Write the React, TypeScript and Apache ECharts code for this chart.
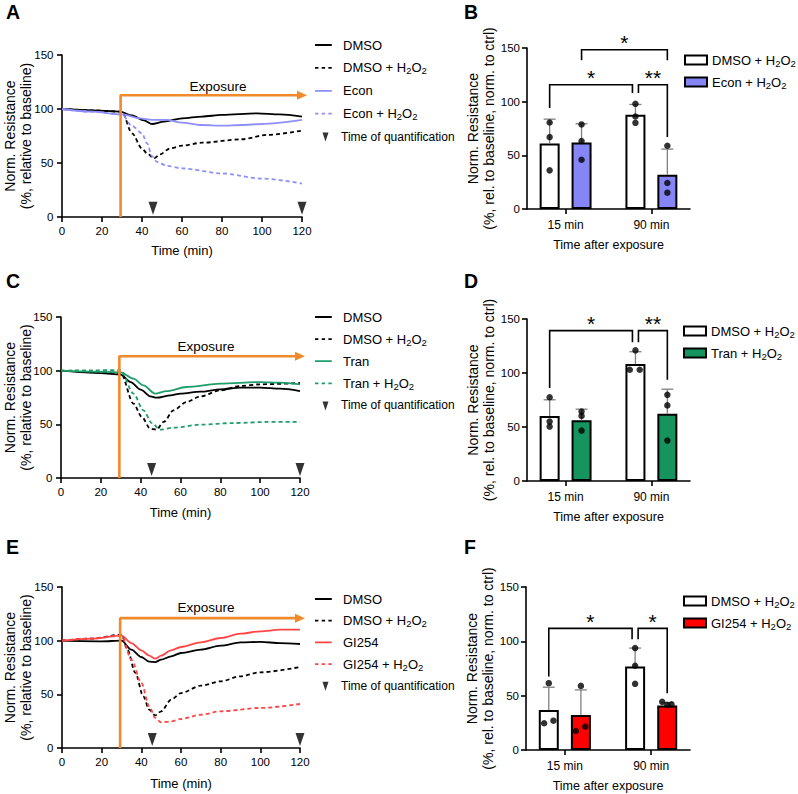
import React, { useEffect, useRef } from "react";
import * as echarts from "echarts";

const FONT = '"Liberation Sans", Arial, Helvetica, sans-serif';

// ---------------- data ----------------
// time courses: [minute, normalized resistance %]
const aDMSO = [[0,100],[15,98.8],[29,97.6],[35,94],[41,89.5],[45,86.1],[51,88.3],[60,91.4],[70,93],[80,94.5],[97.5,96],[109,95],[120,93]];
const aDMSO_H2O2 = [[0,100],[15,98.8],[30,97.5],[35,77.5],[40,63.5],[42.5,59],[46,54.2],[49,58],[54,63.5],[60,66],[70,68.8],[90,72],[102.5,76],[120,80]];
const aEcon = [[0,100],[15,97.5],[30,95],[39,91.4],[45,89.9],[52.5,89.9],[60,87.4],[70,85.2],[80,84.6],[90,85.2],[100,86.1],[120,89.9]];
const aEcon_H2O2 = [[0,100],[15,97.5],[30,95],[35,84.3],[40,77.5],[42.5,68.2],[45,56.4],[47.5,51],[52.5,47.4],[60,45],[80,40.3],[100,35.6],[120,31]];

const cDMSO = [[0,100],[20,97.8],[30,96.3],[35,89.4],[40,82.3],[45,76],[48,74.8],[55,77],[60,78.6],[70,80.4],[80,82.6],[90,84.2],[100,84.2],[110,83.2],[120,81]];
const cDMSO_H2O2 = [[0,100],[15,99],[30,98],[36.4,69.3],[40.6,56.8],[44.8,46],[48,45],[51.5,52.2],[56.5,63],[63,70.8],[70,76],[80,81.7],[90,85.7],[100,87.3],[120,88.5]];
const cTran = [[0,100],[15,99.2],[30,98.5],[36.4,92.5],[41.4,86.3],[47.3,78.6],[53,81],[63,84.8],[80,87.9],[100,89.4],[110,88.8],[120,87.3]];
const cTran_H2O2 = [[0,100],[15,100.3],[30,100.5],[36.4,78.6],[41.4,63],[45.6,51.2],[49.8,45],[56.5,46.9],[70,49.7],[86.7,51.2],[103.5,52.2],[120,52.2]];

const eDMSO = [[0,100],[20,99.4],[30,100],[35,91.6],[40,84.8],[44,80.4],[47,80.1],[50,82.3],[55,85.4],[60,88.5],[70,91.6],[80,95.3],[90,98.4],[100,98.8],[110,97.8],[120,96.9]];
const eDMSO_H2O2 = [[0,100],[15,101.9],[30,105.6],[33,91.6],[37,69.9],[41,48.1],[44,35.7],[47,30.4],[50,34.2],[55,45],[60,51.2],[70,58.1],[80,62.1],[90,66.8],[100,70.5],[120,75.5]];
const eGI = [[0,100],[15,101.9],[30,104.7],[35,97.8],[40,91],[44,86],[47,83.2],[50,86],[55,91],[60,94.1],[70,98.4],[80,102.5],[90,106.5],[100,108.7],[110,110.2],[120,110.2]];
const eGI_H2O2 = [[0,100],[15,102],[30,104.7],[35,82.3],[40,60.6],[44,38.8],[47,28],[50,23.9],[55,24.8],[60,27],[70,31],[80,34.2],[100,37.3],[120,41]];

const quantTimes = [45.5, 120];
const exposureStart = 29.3;

// bar panels
const barCategories = ["15 min", "90 min"];

const bDMSOMean = [61, 87.8];
const bDMSOSd = [22.7, 9.6];
const bDMSODots = [[80.6, 67, 36], [98, 86.2, 80.3]];
const bEconMean = [62, 31.9];
const bEconSd = [17.4, 23.9];
const bEconDots = [[78.8, 63.3, 45.9], [58.9, 24.2, 15.2]];

const dDMSOMean = [60.3, 108.3];
const dDMSOSd = [14.9, 11.4];
const dDMSODots = [[77.6, 55, 50.4], [121, 103, 103]];
const dTranMean = [56.3, 62.2];
const dTranSd = [10.2, 22.8];
const dTranDots = [[64.3, 60.3, 46.7], [79.8, 70, 37.4]];

const fDMSOMean = [36.9, 76.9];
const fDMSOSd = [20.9, 16.9];
const fDMSODots = [[61.5, 24.6, 27], [93.8, 77.5, 60.9]];
const fGIMean = [32.3, 40.9];
const fGISd = [23, 2.7];
const fGIDots = [[59, 17.5, 21.5], [44.3, 41.5, 42]];

// significance brackets: endpoints as [category, group]
const bBrackets = [
  { from: [0, 0], to: [1, 0], y: 115.8, legs: [94, 108], label: "*" },
  { from: [1, 0], to: [1, 1], y: 115.8, legs: [108, 67], label: "**" },
  { from: [0, 1], to: [1, 1], y: 148.4, legs: [138.5, 138.5], label: "*" },
];
const dBrackets = [
  { from: [0, 0], to: [1, 0], y: 139.2, legs: [86, 128.4], label: "*" },
  { from: [1, 0], to: [1, 1], y: 139.2, legs: [128.4, 93.7], label: "**" },
];
const fBrackets = [
  { from: [0, 0], to: [1, 0], y: 111.9, legs: [67.6, 102], label: "*" },
  { from: [1, 0], to: [1, 1], y: 111.9, legs: [102, 52.3], label: "*" },
];

// ---------------- layout & style ----------------
const BLACK = "#000000";
const ECON_LINE = "#8f8ffb";
const ECON_BAR = "#8585f5";
const TRAN_LINE = "#1f9e6b";
const TRAN_BAR = "#15955d";
const GI_LINE = "#ff4545";
const GI_BAR = "#ff0000";
const ORANGE = "#f08a2c";
const ERR_GREY = "#808080";

const ZERO_JITTER = [[0, 0, 0], [0, 0, 0]];
const dDMSOJitter = [[0, 0, 0], [0, -0.066, 0.05]];
const fDMSOJitter = [[0, -0.054, 0.054], [0, 0, 0]];
const fGIJitter = [[0, -0.058, 0.05], [-0.058, 0, 0.05]];

const GROUP_OFF = 0.186;
const NUDGE = 0.035;
// legend icons, padded to the full 19x14 item box so they are drawn at scale 1
const BOX = "M0,0L0.01,0L0.01,0.01ZM19,14L19.01,14L19.01,14.01Z";
const TRI_ICON = `path://${BOX}M9.5,3L15.5,3L12.5,12Z`;
const SOLID_ICON = `path://${BOX}M2,6.1h16.8v1.8h-16.8Z`;
const DASH_ICON = `path://${BOX}M2,6.1h3.4v1.8h-3.4ZM8.7,6.1h3.4v1.8h-3.4ZM15.4,6.1h3.4v1.8h-3.4Z`;

const LEGEND_FONT = 13;

const linePanels = [
  {
    id: "A", grid: { left: 62, top: 55, width: 240, height: 162 },
    lines: [
      { name: "DMSO", data: aDMSO, color: BLACK, dashed: false },
      { name: "DMSO + H2O2", data: aDMSO_H2O2, color: BLACK, dashed: true },
      { name: "Econ", data: aEcon, color: ECON_LINE, dashed: false },
      { name: "Econ + H2O2", data: aEcon_H2O2, color: ECON_LINE, dashed: true },
    ],
    exposureTop: 112.7, legend: { left: 313, top: 37, gap: 6.9 },
    exposureLabel: [218, 86], letter: [6, 12], yTitleX: [10, 26], nameGap: 27,
  },
  {
    id: "C", grid: { left: 61, top: 317, width: 239, height: 161 },
    lines: [
      { name: "DMSO", data: cDMSO, color: BLACK, dashed: false },
      { name: "DMSO + H2O2", data: cDMSO_H2O2, color: BLACK, dashed: true },
      { name: "Tran", data: cTran, color: TRAN_LINE, dashed: false },
      { name: "Tran + H2O2", data: cTran_H2O2, color: TRAN_LINE, dashed: true },
    ],
    exposureTop: 113.4, legend: { left: 313, top: 309, gap: 6.1 },
    exposureLabel: [206, 346], letter: [6, 281], yTitleX: [10, 26], nameGap: 28,
  },
  {
    id: "E", grid: { left: 62, top: 587, width: 238, height: 161 },
    lines: [
      { name: "DMSO", data: eDMSO, color: BLACK, dashed: false },
      { name: "DMSO + H2O2", data: eDMSO_H2O2, color: BLACK, dashed: true },
      { name: "GI254", data: eGI, color: GI_LINE, dashed: false },
      { name: "GI254 + H2O2", data: eGI_H2O2, color: GI_LINE, dashed: true },
    ],
    exposureTop: 121, legend: { left: 313, top: 591, gap: 5.7 },
    exposureLabel: [206, 607], letter: [6, 547], yTitleX: [10, 26], nameGap: 28.5,
  },
];

const barPanels = [
  {
    id: "B", grid: { left: 527, top: 48, width: 163, height: 161 },
    groups: [
      { name: "DMSO + H2O2", mean: bDMSOMean, sd: bDMSOSd, dots: bDMSODots, jitter: ZERO_JITTER, fill: "#ffffff" },
      { name: "Econ + H2O2", mean: bEconMean, sd: bEconSd, dots: bEconDots, jitter: ZERO_JITTER, fill: ECON_BAR },
    ],
    brackets: bBrackets, legend: { left: 684, top: 52 }, letter: [464, 12], yTitleX: [473, 489],
  },
  {
    id: "D", grid: { left: 527, top: 319, width: 163, height: 162 },
    groups: [
      { name: "DMSO + H2O2", mean: dDMSOMean, sd: dDMSOSd, dots: dDMSODots, jitter: dDMSOJitter, fill: "#ffffff" },
      { name: "Tran + H2O2", mean: dTranMean, sd: dTranSd, dots: dTranDots, jitter: ZERO_JITTER, fill: TRAN_BAR },
    ],
    brackets: dBrackets, legend: { left: 683, top: 323 }, letter: [464, 281], yTitleX: [473, 489],
  },
  {
    id: "F", grid: { left: 526, top: 587, width: 164, height: 163 },
    groups: [
      { name: "DMSO + H2O2", mean: fDMSOMean, sd: fDMSOSd, dots: fDMSODots, jitter: fDMSOJitter, fill: "#ffffff" },
      { name: "GI254 + H2O2", mean: fGIMean, sd: fGISd, dots: fGIDots, jitter: fGIJitter, fill: GI_BAR },
    ],
    brackets: fBrackets, legend: { left: 683, top: 593 }, letter: [464, 547], yTitleX: [472, 488],
  },
];

// ---------------- helpers ----------------
const axisLineStyle = { show: true, onZero: false, lineStyle: { color: BLACK, width: 1.6 } };
const axisTickStyle = { show: true, length: 5, inside: false, lineStyle: { color: BLACK, width: 1.6 } };

const subRich = {
  s: { fontSize: 9.5, lineHeight: 8, verticalAlign: "bottom", fontFamily: FONT, color: BLACK },
};
const legendFormatter = (name: string) => {
  const label = name.slice(name.indexOf("|") + 1);
  return label.replace(/H2O2/g, "H{s|2}O{s|2}");
};

const textEl = (x: number, y: number, text: string, size: number, extra: any = {}) => ({
  type: "text",
  x,
  y,
  silent: true,
  rotation: extra.rotation || 0,
  style: {
    text,
    fontSize: size,
    fontFamily: FONT,
    fontWeight: extra.bold ? "bold" : "normal",
    fill: BLACK,
    textAlign: extra.align || "center",
    textVerticalAlign: "middle",
    align: extra.align || "center",
    verticalAlign: "middle",
  },
});

const barPos = (p: number[]) => p[0] + 1 + (p[1] ? GROUP_OFF : -GROUP_OFF);

function buildOption() {
  const grid: any[] = [];
  const xAxis: any[] = [];
  const yAxis: any[] = [];
  const series: any[] = [];
  const legend: any[] = [];
  const elements: any[] = [];

  linePanels.forEach((p) => {
    const gi = grid.length;
    grid.push({ ...p.grid, containLabel: false, outerBoundsMode: "none" });
    xAxis.push({
      gridIndex: gi, type: "value", min: 0, max: 120, interval: 20,
      axisLine: axisLineStyle, axisTick: axisTickStyle,
      axisLabel: { color: BLACK, fontSize: 11.5, fontFamily: FONT, margin: 7.5, showMinLabel: true, showMaxLabel: true },
      splitLine: { show: false },
      name: "Time (min)", nameLocation: "middle", nameGap: p.nameGap, nameMoveOverlap: false,
      nameTextStyle: { color: BLACK, fontSize: 13, fontFamily: FONT },
    });
    yAxis.push({
      gridIndex: gi, type: "value", min: 0, max: 150, interval: 50,
      axisLine: axisLineStyle, axisTick: axisTickStyle,
      axisLabel: { color: BLACK, fontSize: 11.5, fontFamily: FONT, margin: 8.5, showMinLabel: true, showMaxLabel: true },
      splitLine: { show: false },
    });

    p.lines.forEach((l) => {
      series.push({
        type: "line", name: `${p.id}|${l.name}`, xAxisIndex: gi, yAxisIndex: gi,
        data: l.data, symbol: "none", smooth: 0.3, smoothMonotone: "x",
        lineStyle: { color: l.color, width: 1.8, type: l.dashed ? [4, 3] : "solid" },
        itemStyle: { color: l.color }, z: 3, emphasis: { disabled: true },
      });
    });
    // exposure arrow
    series.push({
      type: "line", name: `${p.id}|exposure`, xAxisIndex: gi, yAxisIndex: gi, clip: false,
      symbol: "none", showSymbol: true,
      data: [
        [exposureStart, 0],
        [exposureStart, p.exposureTop],
        { value: [120, p.exposureTop], symbol: "triangle", symbolRotate: -90, symbolSize: [9, 10] },
      ],
      lineStyle: { color: ORANGE, width: 2.6 }, itemStyle: { color: ORANGE }, z: 4,
      emphasis: { disabled: true },
    });
    // time of quantification markers
    series.push({
      type: "scatter", name: `${p.id}|Time of quantification`, xAxisIndex: gi, yAxisIndex: gi, clip: false,
      data: quantTimes.map((t) => [t, 8]), symbol: "triangle", symbolRotate: 180, symbolSize: [9, 13],
      itemStyle: { color: BLACK }, z: 5, emphasis: { disabled: true },
    });

    legend.push({
      orient: "vertical", left: p.legend.left, top: p.legend.top, padding: 0,
      itemGap: p.legend.gap, itemWidth: 19, itemHeight: 14, selectedMode: false, symbolRotate: 0,
      data: [
        ...p.lines.map((l) => ({ name: `${p.id}|${l.name}`, icon: l.dashed ? DASH_ICON : SOLID_ICON })),
        { name: `${p.id}|Time of quantification`, icon: TRI_ICON, textStyle: { fontSize: 12, padding: [0, 0, 0, 4] } },
      ],
      formatter: legendFormatter,
      textStyle: { color: BLACK, fontSize: LEGEND_FONT, fontFamily: FONT, lineHeight: 16, padding: [0, 0, 0, 6], rich: subRich },
    });

    const cy = p.grid.top + p.grid.height / 2;
    elements.push(textEl(p.letter[0], p.letter[1], p.id, 19.5, { bold: true, align: "left" }));
    elements.push(textEl(p.exposureLabel[0], p.exposureLabel[1], "Exposure", 13.5));
    elements.push(textEl(p.yTitleX[0], cy, "Norm. Resistance", 14, { rotation: Math.PI / 2 }));
    elements.push(textEl(p.yTitleX[1], cy, "(%, relative to baseline)", 14, { rotation: Math.PI / 2 }));
  });

  const errRender = (params: any, api: any) => {
    const x = api.value(0), m = api.value(1), sd = api.value(2);
    const p0 = api.coord([x, m]);
    const p1 = api.coord([x, m + sd]);
    const st = { stroke: ERR_GREY, lineWidth: 1.3 };
    return {
      type: "group",
      children: [
        { type: "line", shape: { x1: p0[0], y1: p0[1], x2: p1[0], y2: p1[1] }, style: st },
        { type: "line", shape: { x1: p1[0] - 6, y1: p1[1], x2: p1[0] + 6, y2: p1[1] }, style: st },
      ],
    };
  };

  barPanels.forEach((p) => {
    const gi = grid.length;
    grid.push({ ...p.grid, containLabel: false, outerBoundsMode: "none" });
    xAxis.push({
      gridIndex: gi, type: "value", min: 0.55, max: 2.45,
      axisLine: axisLineStyle,
      axisTick: { ...axisTickStyle, customValues: [1, 2] },
      axisLabel: {
        customValues: [1, 2], color: BLACK, fontSize: 12, fontFamily: FONT, margin: 10,
        formatter: (v: number) => barCategories[Math.round(v) - 1] || "",
      },
      splitLine: { show: false },
      name: "Time after exposure", nameLocation: "middle", nameGap: 29.5, nameMoveOverlap: false,
      nameTextStyle: { color: BLACK, fontSize: 12.5, fontFamily: FONT },
    });
    yAxis.push({
      gridIndex: gi, type: "value", min: 0, max: 150, interval: 50,
      axisLine: axisLineStyle, axisTick: axisTickStyle,
      axisLabel: { color: BLACK, fontSize: 11.5, fontFamily: FONT, margin: 7, showMinLabel: true, showMaxLabel: true },
      splitLine: { show: false },
    });

    p.groups.forEach((g, gIdx) => {
      series.push({
        type: "bar", name: `${p.id}|${g.name}`, xAxisIndex: gi, yAxisIndex: gi,
        barWidth: 20, barGap: "-100%",
        data: g.mean.map((m, c) => [barPos([c, gIdx]), m]),
        itemStyle: { color: g.fill, borderColor: BLACK, borderWidth: 2 }, z: 2,
        emphasis: { disabled: true },
      });
      series.push({
        type: "custom", name: `${p.id}|err${gIdx}`, xAxisIndex: gi, yAxisIndex: gi,
        renderItem: errRender, silent: true,
        data: g.mean.map((m, c) => [barPos([c, gIdx]), m, g.sd[c]]), z: 3,
      });
      series.push({
        type: "scatter", name: `${p.id}|dots${gIdx}`, xAxisIndex: gi, yAxisIndex: gi,
        data: g.dots.flatMap((vals, c) => vals.map((v, k) => [barPos([c, gIdx]) + g.jitter[c][k], v])),
        symbolSize: 6.5, itemStyle: { color: BLACK }, z: 4, emphasis: { disabled: true },
      });
    });

    const key = (q: number[]) => q.join(",");
    const br = p.brackets;
    const brData = br.map((b) => {
      const fromShared = br.some((o) => o !== b && o.y === b.y && key(o.to) === key(b.from));
      const toShared = br.some((o) => o !== b && o.y === b.y && key(o.from) === key(b.to));
      return [barPos(b.from) + (fromShared ? NUDGE : 0), barPos(b.to) - (toShared ? NUDGE : 0), b.y, b.legs[0], b.legs[1]];
    });
    series.push({
      type: "custom", name: `${p.id}|brackets`, xAxisIndex: gi, yAxisIndex: gi, silent: true, z: 5,
      data: brData,
      renderItem: (params: any, api: any) => {
        const x1 = api.value(0), x2 = api.value(1), y = api.value(2), l1 = api.value(3), l2 = api.value(4);
        const a = api.coord([x1, l1]);
        const b = api.coord([x1, y]);
        const c = api.coord([x2, y]);
        const d = api.coord([x2, l2]);
        return {
          type: "group",
          children: [
            { type: "polyline", shape: { points: [a, b, c, d] }, style: { stroke: BLACK, lineWidth: 1.6, fill: null } },
            {
              type: "text", x: (b[0] + c[0]) / 2, y: b[1] - 7,
              style: {
                text: br[params.dataIndex].label, fontSize: 21, fontFamily: FONT, fill: BLACK,
                textAlign: "center", textVerticalAlign: "middle", align: "center", verticalAlign: "middle",
              },
            },
          ],
        };
      },
    });

    legend.push({
      orient: "vertical", left: p.legend.left, top: p.legend.top, padding: 0,
      itemGap: 6, itemWidth: 22, itemHeight: 9, selectedMode: false, icon: "rect",
      data: p.groups.map((g) => `${p.id}|${g.name}`),
      formatter: legendFormatter,
      textStyle: { color: BLACK, fontSize: LEGEND_FONT, fontFamily: FONT, lineHeight: 16, rich: subRich },
    });

    const cy = p.grid.top + p.grid.height / 2;
    elements.push(textEl(p.letter[0], p.letter[1], p.id, 19.5, { bold: true, align: "left" }));
    elements.push(textEl(p.yTitleX[0], cy, "Norm. Resistance", 14, { rotation: Math.PI / 2 }));
    elements.push(textEl(p.yTitleX[1], cy, "(%, rel. to baseline, norm. to ctrl)", 14, { rotation: Math.PI / 2 }));
  });

  return {
    animation: false,
    backgroundColor: "#ffffff",
    textStyle: { fontFamily: FONT, color: BLACK },
    tooltip: { show: false },
    grid,
    xAxis,
    yAxis,
    legend,
    series,
    graphic: { elements },
  };
}

export default function App() {
  const ref = useRef<HTMLDivElement>(null);
  useEffect(() => {
    if (!ref.current) return;
    const chart = echarts.init(ref.current, null, { renderer: "svg" });
    chart.setOption(buildOption() as any);
    return () => chart.dispose();
  }, []);
  return (
    <div
      ref={ref}
      style={{ position: "absolute", left: 0, top: 0, width: 798, height: 794, background: "#fff" }}
    />
  );
}
